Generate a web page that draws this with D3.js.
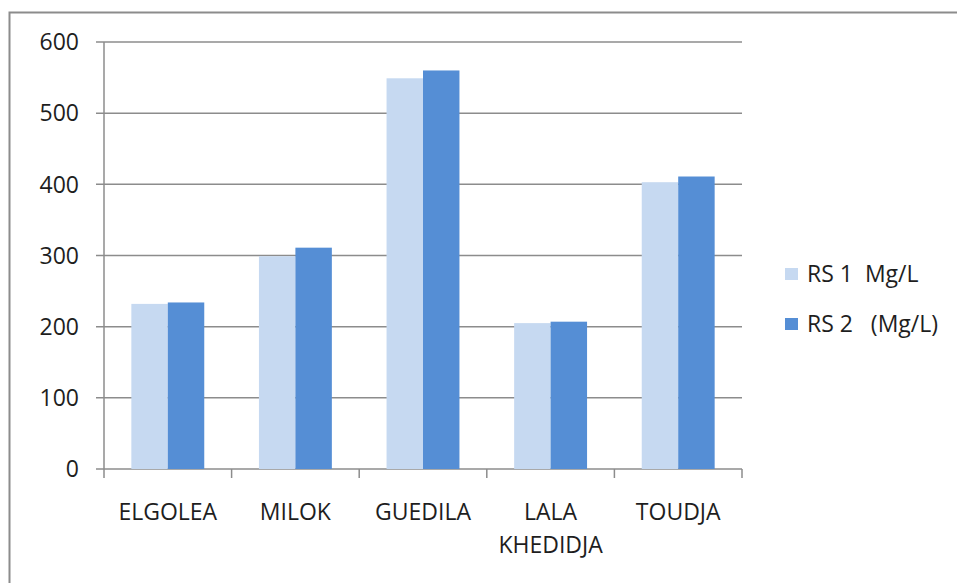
<!DOCTYPE html>
<html>
<head>
<meta charset="utf-8">
<script src="https://cdn.jsdelivr.net/npm/d3@7"></script>
<style>
  body { margin: 0; background: #fff; }
  text { font-family: "Open Sans", sans-serif; fill: #1e1e1e; }
</style>
</head>
<body>
<div id="chart"></div>
<script>
const categories = ["ELGOLEA", "MILOK", "GUEDILA", "LALA KHEDIDJA", "TOUDJA"];
const seriesNames = ["RS 1  Mg/L", "RS 2   (Mg/L)"];
const rs1 = [232, 299, 549, 205, 403];
const rs2 = [234, 311, 560, 207, 411];
const yTicks = [0, 100, 200, 300, 400, 500, 600];
const colors = ["#c6d9f1", "#558ed5"];

const W = 957, H = 583;
const margin = { top: 42, left: 104, right: 215, bottom: 114 };
const width = W - margin.left - margin.right,
      height = H - margin.top - margin.bottom;

const svg = d3.select("#chart").append("svg")
    .attr("width", W)
    .attr("height", H);

// outer frame (only top and left visible in picture)
svg.append("path")
    .attr("d", "M9.5," + H + "V12.5H" + W)
    .attr("fill", "none")
    .attr("stroke", "#8c8c8c")
    .attr("stroke-width", 2);

const g = svg.append("g")
    .attr("transform", "translate(" + margin.left + "," + margin.top + ")");

const x = d3.scaleBand()
    .domain(categories)
    .range([0, width])
    .paddingInner(0)
    .paddingOuter(0);

const x1 = d3.scaleBand()
    .domain([0, 1])
    .range([0, x.bandwidth()])
    .paddingOuter(0.75)
    .paddingInner(0);

const y = d3.scaleLinear()
    .domain([0, 600])
    .range([height, 0]);

// gridlines
g.append("g")
  .selectAll("line")
  .data(yTicks)
  .enter().append("line")
    .attr("x1", -8)
    .attr("x2", width)
    .attr("y1", d => y(d))
    .attr("y2", d => y(d))
    .attr("stroke", "#8c8c8c")
    .attr("stroke-width", 1.5);

const data = categories.map((c, i) => ({ cat: c, vals: [rs1[i], rs2[i]] }));

const groups = g.selectAll(".grp")
  .data(data)
  .enter().append("g")
    .attr("class", "grp")
    .attr("transform", d => "translate(" + x(d.cat) + ",0)");

groups.selectAll("rect")
  .data(d => d.vals.map((v, k) => ({ k: k, v: v })))
  .enter().append("rect")
    .attr("x", d => x1(d.k))
    .attr("width", x1.bandwidth())
    .attr("y", d => y(d.v))
    .attr("height", d => height - y(d.v))
    .attr("fill", d => colors[d.k]);

// y axis line
g.append("line")
    .attr("x1", 0).attr("x2", 0)
    .attr("y1", 0).attr("y2", height)
    .attr("stroke", "#8c8c8c")
    .attr("stroke-width", 1.5);

// category tick marks
const bounds = categories.map(c => x(c)).concat([width]);
g.append("g")
  .selectAll("line")
  .data(bounds)
  .enter().append("line")
    .attr("x1", d => d).attr("x2", d => d)
    .attr("y1", height).attr("y2", height + 9)
    .attr("stroke", "#8c8c8c")
    .attr("stroke-width", 1.5);

// y tick labels
g.append("g")
  .selectAll("text")
  .data(yTicks)
  .enter().append("text")
    .attr("x", -25)
    .attr("y", d => y(d))
    .attr("dy", "0.36em")
    .attr("text-anchor", "end")
    .style("font-size", "23px")
    .text(d => d);

// category labels (wrap two-word label)
const catLabels = g.append("g")
  .selectAll("text")
  .data(categories)
  .enter().append("text")
    .attr("x", d => x(d) + x.bandwidth() / 2)
    .attr("y", height + 51)
    .attr("text-anchor", "middle")
    .style("font-size", "23px");

catLabels.each(function(d) {
  const words = d.split(" ");
  d3.select(this).selectAll("tspan")
    .data(words)
    .enter().append("tspan")
      .attr("x", x(d) + x.bandwidth() / 2)
      .attr("dy", (w, i) => i === 0 ? 0 : 33)
      .text(w => w);
});

// legend
const legend = svg.append("g")
    .attr("transform", "translate(785,268)");

seriesNames.forEach((name, i) => {
  const row = legend.append("g")
      .attr("transform", "translate(0," + (i * 50) + ")");
  row.append("rect")
      .attr("width", 13)
      .attr("height", 12)
      .attr("fill", colors[i]);
  row.append("text")
      .attr("x", 22)
      .attr("y", 6)
      .attr("dy", "0.36em")
      .style("font-size", "23px")
      .attr("xml:space", "preserve")
      .text(name);
});
</script>
</body>
</html>
